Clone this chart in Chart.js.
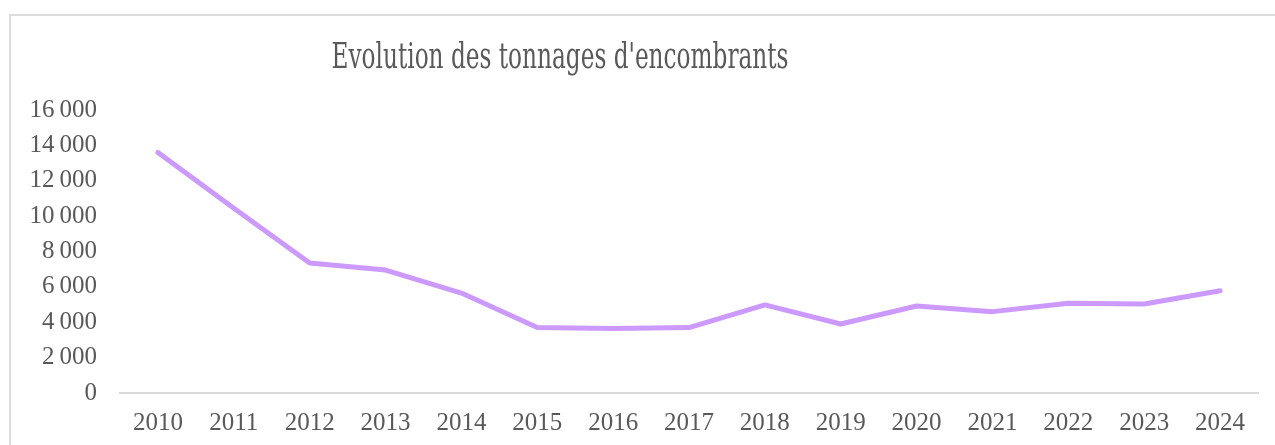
<!DOCTYPE html>
<html>
<head>
<meta charset="utf-8">
<script src="https://cdn.jsdelivr.net/npm/chart.js@4"></script>
<style>
  html, body { margin: 0; padding: 0; background: #ffffff; }
  #wrap { position: relative; width: 1275px; height: 445px; overflow: hidden; }
  #frame { position: absolute; left: 9px; top: 14px; width: 1300px; height: 460px; border: 2px solid #dcdcdc; box-sizing: border-box; }
  #title { position: absolute; left: 560px; top: 36px; font-family: "DejaVu Serif Condensed", "DejaVu Serif", serif; font-stretch: condensed; font-size: 35px; color: #595959; line-height: 40px; white-space: nowrap; transform-origin: 0 0; }
  canvas { position: absolute; left: 0; top: 0; }
</style>
</head>
<body>
<div id="wrap">
  <div id="frame"></div>
  <canvas id="c" width="1275" height="445"></canvas>
  <div id="title">Evolution des tonnages d'encombrants</div>
</div>
<script>
const titleText = "Evolution des tonnages d'encombrants";
const years = ["2010","2011","2012","2013","2014","2015","2016","2017","2018","2019","2020","2021","2022","2023","2024"];
const tonnages = [13600, 10450, 7350, 6950, 5650, 3700, 3650, 3700, 4980, 3900, 4920, 4600, 5070, 5030, 5780];
const yTicks = [0, 2000, 4000, 6000, 8000, 10000, 12000, 14000, 16000];

const t = document.getElementById('title');
t.textContent = titleText;
const w = t.getBoundingClientRect().width;
const targetW = 457;
const sx = targetW / w;
t.style.transform = 'translateX(' + (-targetW / 2) + 'px) scaleX(' + sx + ')';

function fmt(v) {
  return String(v).replace(/\B(?=(\d{3})+(?!\d))/g, '\u2009');
}

const font = { family: '"Liberation Serif", "DejaVu Serif", serif', size: 25 };

new Chart(document.getElementById('c'), {
  type: 'line',
  data: {
    labels: years,
    datasets: [{
      data: tonnages,
      borderColor: '#CC99FF',
      backgroundColor: '#CC99FF',
      borderWidth: 5,
      pointRadius: 0,
      borderCapStyle: 'round',
      borderJoinStyle: 'round',
      tension: 0,
      fill: false
    }]
  },
  options: {
    responsive: false,
    animation: false,
    devicePixelRatio: 1,
    layout: { padding: { left: 0, top: 110, right: 17, bottom: 0 } },
    plugins: { legend: { display: false }, tooltip: { enabled: false }, title: { display: false } },
    scales: {
      x: {
        offset: true,
        grid: { display: false, drawTicks: false },
        border: { display: true, color: '#d9d9d9', width: 2 },
        ticks: { color: '#595959', font: font, padding: 15, maxRotation: 0, autoSkip: false },
        afterFit: s => { s.height = 52; }
      },
      y: {
        min: 0, max: 16000,
        afterBuildTicks: s => { s.ticks = yTicks.map(v => ({ value: v })); },
        grid: { display: false, drawTicks: false },
        border: { display: false },
        ticks: { color: '#595959', font: font, padding: 23, callback: v => fmt(v) },
        afterFit: s => { s.width = 120; }
      }
    }
  }
});
</script>
</body>
</html>
